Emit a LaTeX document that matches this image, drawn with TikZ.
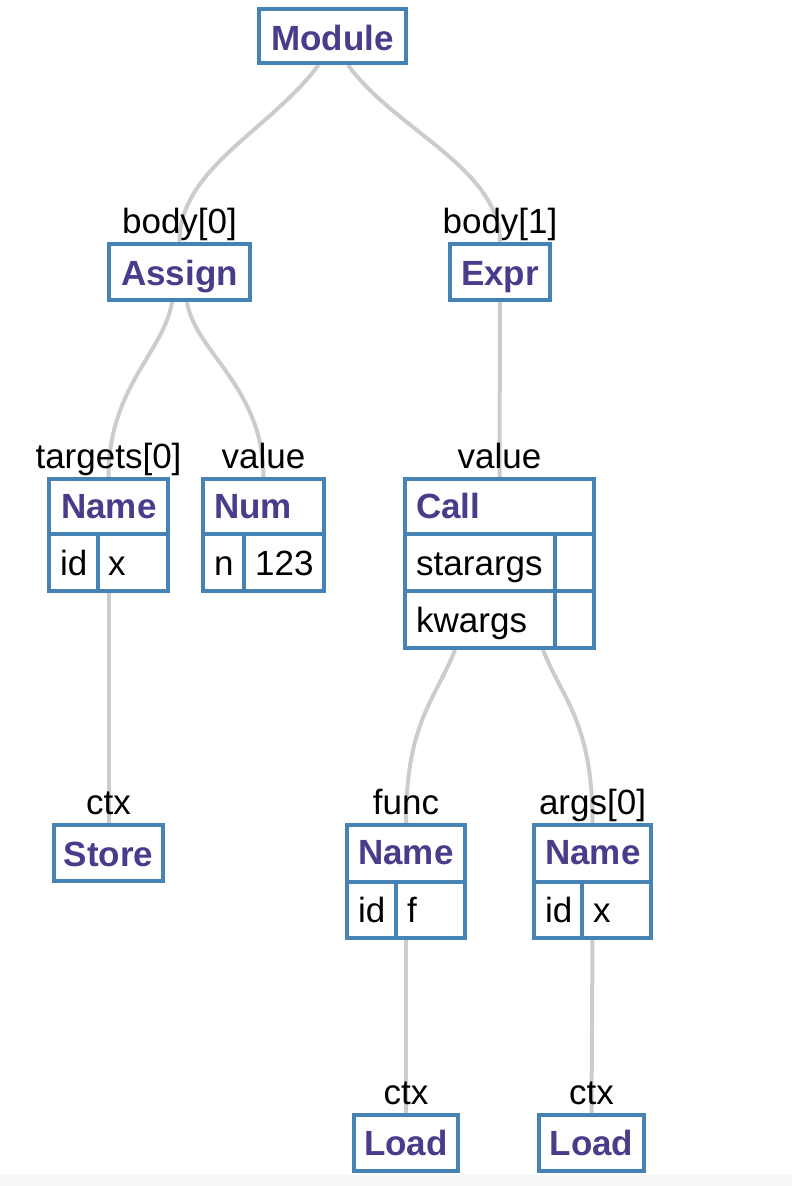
\documentclass[tikz,border=0pt]{standalone}
\usepackage{fontspec}
\setmainfont{Liberation Sans}
\usetikzlibrary{backgrounds}
\definecolor{boxc}{HTML}{4682B4}
\definecolor{headc}{HTML}{483D8B}
\definecolor{edgec}{HTML}{CCCCCC}
\tikzset{
  box/.style={draw=boxc, fill=white, line width=4pt, inner sep=0pt, rectangle},
  divider/.style={draw=boxc, line width=4pt},
  edge/.style={draw=edgec, line width=4pt},
  head/.style={text=headc, font=\fontsize{35pt}{42pt}\selectfont\bfseries, inner sep=0pt},
  fld/.style={text=black, font=\fontsize{35pt}{42pt}\selectfont, inner sep=0pt, anchor=base west},
  lbl/.style={text=black, font=\fontsize{35pt}{42pt}\selectfont, inner sep=0pt, anchor=base},
}
\begin{document}
\begin{tikzpicture}[x=1pt, y=-1pt]
\useasboundingbox (0,0) rectangle (792,1186);
\fill[black!3] (0,1175) rectangle (792,1186);

% boxes
\node[box, minimum width=147pt, minimum height=54pt] (module) at (332.5,36) {};
\node[box, minimum width=141pt, minimum height=56pt] (assign) at (179.5,272) {};
\node[box, minimum width=100pt, minimum height=56pt] (expr) at (500,272) {};
\node[box, minimum width=119pt, minimum height=112pt] (tname) at (108.5,535) {};
\node[box, minimum width=121pt, minimum height=112pt] (num) at (263.5,535) {};
\node[box, minimum width=189pt, minimum height=169pt] (call) at (499.5,563.5) {};
\node[box, minimum width=109pt, minimum height=56pt] (store) at (108.5,853) {};
\node[box, minimum width=118pt, minimum height=113pt] (fname) at (406,881.5) {};
\node[box, minimum width=117pt, minimum height=113pt] (aname) at (592.5,881.5) {};
\node[box, minimum width=104pt, minimum height=56pt] (lload) at (406,1143) {};
\node[box, minimum width=105pt, minimum height=56pt] (rload) at (591.5,1143) {};

% record dividers
\draw[divider] (49,534) -- (168,534) (98,534) -- (98,591);
\draw[divider] (203,534) -- (324,534) (244,534) -- (244,591);
\draw[divider] (405,534) -- (594,534) (405,591) -- (594,591) (555,534) -- (555,648);
\draw[divider] (347,882) -- (465,882) (396,882) -- (396,938);
\draw[divider] (534,882) -- (651,882) (582,882) -- (582,938);

% box texts
\node[head, anchor=base] (tmodule) at (332.5,50) {Module};
\node[head, anchor=base] (tassign) at (179.5,285) {Assign};
\node[head, anchor=base] (texpr) at (500,285) {Expr};
\node[head, anchor=base] (tstore) at (108.5,866) {Store};
\node[head, anchor=base] (tlload) at (406,1155) {Load};
\node[head, anchor=base] (trload) at (591.5,1155) {Load};

\node[head, anchor=base west] (htname) at (61,518) {Name};
\node[fld] (f1a) at (60,575) {id};
\node[fld] (f1b) at (108,575) {x};
\node[head, anchor=base west] (hnum) at (214,518) {Num};
\node[fld] (f2a) at (214,575) {n};
\node[fld] (f2b) at (255,575) {123};
\node[head, anchor=base west] (hcall) at (416,518) {Call};
\node[fld] (f3a) at (416,575) {starargs};
\node[fld] (f3b) at (416,632) {kwargs};
\node[head, anchor=base west] (hfname) at (358,864) {Name};
\node[fld] (f4a) at (358,922) {id};
\node[fld] (f4b) at (407,922) {f};
\node[head, anchor=base west] (haname) at (545,864) {Name};
\node[fld] (f5a) at (545,922) {id};
\node[fld] (f5b) at (593,922) {x};

% edge labels
\node[lbl] (l1) at (179.5,233) {body[0]};
\node[lbl] (l2) at (500,233) {body[1]};
\node[lbl] (l3) at (108.5,468) {targets[0]};
\node[lbl] (l4) at (263.5,468) {value};
\node[lbl] (l5) at (499.5,468) {value};
\node[lbl] (l6) at (108.5,814) {ctx};
\node[lbl] (l7) at (406,814) {func};
\node[lbl] (l8) at (592.5,814) {args[0]};
\node[lbl] (l9) at (406,1104) {ctx};
\node[lbl] (l10) at (591.5,1104) {ctx};

% edges
\begin{pgfonlayer}{background}
\draw[edge] ([xshift=-14pt]module.south) .. controls +(-48,65) and +(0,-74) .. (assign.north);
\draw[edge] ([xshift=15.5pt]module.south) .. controls +(47,65) and +(0,-74) .. (expr.north);
\draw[edge] ([xshift=-7.5pt]assign.south) .. controls +(-8,50) and +(0,-90) .. (tname.north);
\draw[edge] ([xshift=7.5pt]assign.south) .. controls +(8,50) and +(0,-90) .. (num.north);
\draw[edge] (expr.south) -- (call.north);
\draw[edge] (tname.south) -- (store.north);
\draw[edge] ([xshift=-44.5pt]call.south) .. controls +(-20,50) and +(0,-100) .. (fname.north);
\draw[edge] ([xshift=43.5pt]call.south) .. controls +(20,50) and +(0,-100) .. (aname.north);
\draw[edge] (fname.south) -- (lload.north);
\draw[edge] (aname.south) -- (rload.north);
\end{pgfonlayer}
\end{tikzpicture}
\end{document}
